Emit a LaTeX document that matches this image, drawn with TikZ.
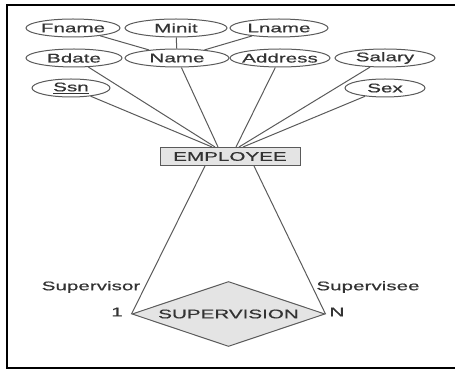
\documentclass[tikz,border=0pt]{standalone}
\usepackage{fontspec}
\setmainfont{Liberation Sans}[FakeStretch=1.65,FakeBold=0.6]
\usetikzlibrary{shapes.geometric}
\definecolor{txt}{HTML}{333333}
\definecolor{ln}{HTML}{5A5A5A}
\definecolor{fillg}{HTML}{E4E4E4}
\begin{document}
\begin{tikzpicture}[x=1pt,y={(0pt,-1pt)},
  every node/.style={font=\fontsize{12.5}{14}\selectfont, text=txt},
  attr/.style={ellipse, draw=ln, line width=1pt, fill=white, inner xsep=-8pt, inner ysep=0pt, minimum height=18pt},
  entbox/.style={rectangle, draw=ln, line width=1pt, fill=fillg, minimum width=140pt, minimum height=18pt, inner sep=0pt},
  relbox/.style={diamond, aspect=2.97, draw=ln, line width=1pt, fill=fillg, minimum width=193pt, minimum height=65pt, inner sep=0pt},
  conn/.style={draw=ln, line width=1pt},
  lbl/.style={inner sep=0pt}]
\useasboundingbox (0,0) rectangle (455,371);
\draw[line width=1.6pt, black] (455,5) -- (7,5) -- (7,368) -- (455,368);

% top row
\node[attr, minimum width=94pt] (fname) at (73,28) {Fname};
\node[attr, minimum width=102pt] (minit) at (176,28) {Minit};
\node[attr, minimum width=98pt] (lname) at (279,28) {Lname};
% second row
\node[attr, minimum width=96pt] (bdate) at (74,58) {Bdate};
\node[attr, minimum width=104pt] (name) at (177,58) {Name};
\node[attr, minimum width=100pt] (address) at (280,58) {Address};
\node[attr, minimum width=100pt] (salary) at (385,58) {Salary};
% third row
\node[attr, minimum width=78pt] (ssn) at (71,88) {\underline{Ssn}};
\node[attr, minimum width=80pt] (sex) at (385,88) {Sex};

\node[entbox] (emp) at (230,156.5) {EMPLOYEE};
\node[relbox] (sup) at (228.5,314) {SUPERVISION};

\draw[conn] (fname) -- (name);
\draw[conn] (minit) -- (name);
\draw[conn] (lname) -- (name);

\draw[conn] (ssn) -- ([xshift=-18pt]emp.north);
\draw[conn] (bdate) -- ([xshift=-15pt]emp.north);
\draw[conn] (name) -- ([xshift=-12pt]emp.north);
\draw[conn] (address) -- ([xshift=6pt]emp.north);
\draw[conn] (salary) -- ([xshift=9pt]emp.north);
\draw[conn] (sex) -- ([xshift=13pt]emp.north);

\draw[conn] ([xshift=-25pt]emp.south) -- (sup.west);
\draw[conn] ([xshift=24pt]emp.south) -- (sup.east);

\node[lbl] (lsup) at (91,287) {Supervisor};
\node[lbl] (lsee) at (368,287) {Supervisee};
\node[lbl] (lone) at (117,312) {1};
\node[lbl] (lN) at (337,312) {N};
\end{tikzpicture}
\end{document}
